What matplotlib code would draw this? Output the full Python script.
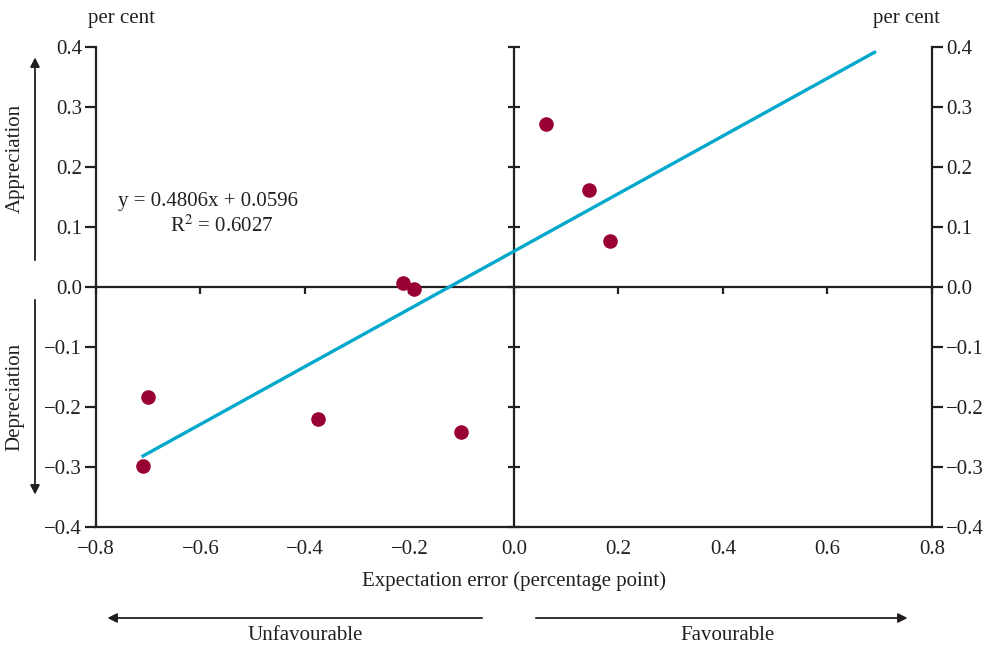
import numpy as np
import matplotlib.pyplot as plt
from matplotlib.markers import TICKDOWN

plt.rcParams['font.family'] = ['Liberation Serif', 'DejaVu Serif']
plt.rcParams['mathtext.fontset'] = 'stix'

# expectation error (percentage point) vs exchange rate move (per cent)
exp_error = [0.061, 0.144, 0.184, -0.212, -0.191, -0.700, -0.710, -0.375, -0.101]
fx_move = [0.272, 0.162, 0.077, 0.007, -0.003, -0.183, -0.298, -0.220, -0.242]
slope = 0.4806
intercept = 0.0596
r2 = 0.6027
fit_x = [-0.71, 0.69]
yticks = [-0.4, -0.3, -0.2, -0.1, 0.0, 0.1, 0.2, 0.3, 0.4]
xticks = [-0.8, -0.6, -0.4, -0.2, 0.0, 0.2, 0.4, 0.6, 0.8]


def fmt(v):
    return f'{v:.1f}'.replace('-', '\u2212') if v < 0 else f'{v:.1f}'


ink = '#231f20'
fs = 15
fig = plt.figure(figsize=(9.95, 6.48), dpi=100)
ax = fig.add_axes([96/995, 1-527/648, (932-96)/995, (527-47)/648])

ax.set_xlim(-0.8, 0.8)
ax.set_ylim(-0.4, 0.4)
ax.spines['top'].set_visible(False)
for s in ['left', 'right', 'bottom']:
    ax.spines[s].set_linewidth(1.6)
    ax.spines[s].set_color(ink)

ax.set_yticks(yticks)
ax.set_yticklabels([fmt(v) for v in yticks])
ax.yaxis.set_ticks_position('both')
ax.tick_params(axis='y', which='both', direction='out', length=8, width=1.6, color=ink,
               labelsize=fs, labelright=True, pad=2, labelcolor=ink)
ax.set_xticks(xticks)
ax.set_xticklabels([fmt(v) for v in xticks])
ax.tick_params(axis='x', length=0, labelsize=fs, pad=9, labelcolor=ink)
ax.set_xlabel('Expectation error (percentage point)', fontsize=fs, color=ink, labelpad=9)

# zero lines, with tick marks hanging off them
ax.axhline(0, color=ink, lw=1.6, zorder=2)
ax.axvline(0, color=ink, lw=1.6, zorder=2)
ax.plot(xticks, [0]*len(xticks), ls='none', marker=TICKDOWN, ms=5, mew=1.6,
        color=ink, zorder=2, clip_on=False)
ax.plot([0]*len(yticks), yticks, ls='none', marker='_', ms=9, mew=1.6,
        color=ink, zorder=2, clip_on=False)

fx = np.array(fit_x)
ax.plot(fx, slope*fx + intercept, color='#00a8cc', lw=2.4, zorder=3)
ax.scatter(exp_error, fx_move, s=110, color='#990033', zorder=4, linewidths=0)

ax.text(-0.586, 0.143, f'y = {slope}x + {intercept}', fontsize=fs, ha='center', va='center', color=ink)
ax.text(-0.559, 0.102, r'R$^2$' + f' = {r2}', fontsize=fs, ha='center', va='center', color=ink)

fig.text(122/995, 1-18/648, 'per cent', fontsize=fs, ha='center', va='center', color=ink)
fig.text(907/995, 1-18/648, 'per cent', fontsize=fs, ha='center', va='center', color=ink)

# direction arrows around the chart
arr = dict(arrowstyle='-|>', color=ink, lw=1.0, mutation_scale=14)
fig.add_artist(plt.annotate('', xy=(35/995, 1-55/648), xytext=(35/995, 1-263/648),
                            xycoords='figure fraction', arrowprops=arr))
fig.add_artist(plt.annotate('', xy=(35/995, 1-497/648), xytext=(35/995, 1-297/648),
                            xycoords='figure fraction', arrowprops=arr))
fig.add_artist(plt.annotate('', xy=(105/995, 1-618/648), xytext=(485/995, 1-618/648),
                            xycoords='figure fraction', arrowprops=arr))
fig.add_artist(plt.annotate('', xy=(910/995, 1-618/648), xytext=(533/995, 1-618/648),
                            xycoords='figure fraction', arrowprops=arr))
fig.text(15/995, 1-158/648, 'Appreciation', rotation=90, fontsize=fs, ha='center', va='center', color=ink)
fig.text(15/995, 1-397/648, 'Depreciation', rotation=90, fontsize=fs, ha='center', va='center', color=ink)
fig.text(305/995, 1-636/648, 'Unfavourable', fontsize=fs, ha='center', va='center', color=ink)
fig.text(728/995, 1-636/648, 'Favourable', fontsize=fs, ha='center', va='center', color=ink)

fig.savefig('out.png', dpi=100)
